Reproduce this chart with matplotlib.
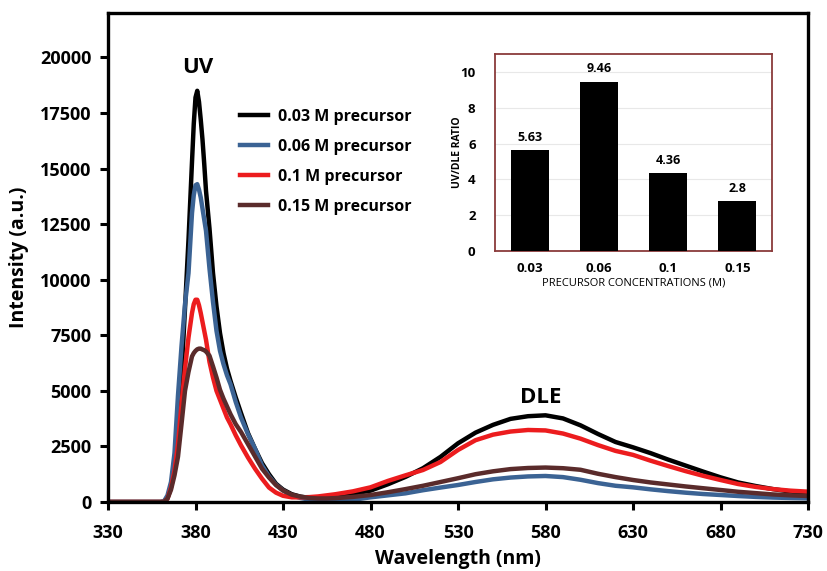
import matplotlib
matplotlib.use("Agg")
import matplotlib.pyplot as plt
import numpy as np

plt.rcParams['font.family'] = ['Open Sans', 'DejaVu Sans']

# wavelength grid (nm) shared by all four spectra
wavelength = [330, 350, 360, 362, 364, 366, 368, 370, 372, 374, 376, 378, 379, 380, 381,
              382, 383, 384, 385, 386, 388, 390, 392, 394, 396, 398, 400, 403, 406, 410,
              414, 418, 422, 426, 430, 435, 440, 445, 450, 455, 460, 470, 480, 490, 500,
              510, 520, 530, 540, 550, 560, 570, 580, 590, 600, 610, 620, 630, 640, 650,
              660, 670, 680, 690, 700, 710, 720, 730]

pl_003 = [0, 0, 0, 20, 200, 700, 1700, 3300, 5700, 8700, 11800, 15300, 17000, 18200, 18500,
          18000, 17200, 16300, 15200, 14000, 12300, 10300, 8800, 7600, 6700, 6000, 5450, 4700, 4000, 3100,
          2400, 1750, 1250, 820, 560, 350, 240, 190, 180, 220, 270, 380, 510, 800, 1130,
          1520, 2030, 2640, 3120, 3470, 3740, 3860, 3900, 3760, 3450, 3060, 2700, 2460, 2200, 1910,
          1640, 1370, 1110, 880, 720, 580, 470, 390]

pl_006 = [0, 0, 0, 30, 300, 900, 2200, 4800, 7000, 8900, 10300, 13000, 13800, 14250, 14300,
          14050, 13700, 13200, 12700, 12200, 10500, 9000, 7700, 6800, 6200, 5700, 5300, 4500, 3800, 3050,
          2400, 1650, 1150, 780, 520, 300, 180, 110, 80, 70, 70, 100, 210, 300, 390,
          530, 650, 765, 900, 1020, 1100, 1150, 1170, 1120, 1000, 850, 730, 660, 570, 490,
          420, 360, 315, 270, 230, 200, 180, 165]

pl_01 = [0, 0, 0, 0, 150, 650, 1400, 2600, 4400, 6000, 7400, 8500, 8900, 9100, 9100,
         8850, 8500, 8100, 7700, 7300, 6300, 5600, 5000, 4600, 4200, 3800, 3500, 3000, 2550, 2000,
         1500, 1050, 650, 420, 280, 210, 210, 220, 250, 300, 350, 480, 660, 950, 1200,
         1440, 1800, 2340, 2780, 3030, 3170, 3240, 3220, 3080, 2850, 2560, 2300, 2120, 1860, 1620,
         1390, 1180, 990, 810, 680, 580, 510, 465]

pl_015 = [0, 0, 0, 0, 150, 550, 1200, 2040, 3500, 5000, 5850, 6550, 6700, 6800, 6870,
          6900, 6900, 6860, 6830, 6770, 6580, 6100, 5600, 5050, 4650, 4300, 3950, 3500, 3150, 2600,
          2050, 1500, 1100, 760, 520, 330, 240, 180, 160, 160, 175, 230, 315, 440, 580,
          730, 900, 1070, 1250, 1380, 1480, 1530, 1550, 1520, 1450, 1270, 1120, 990, 880, 790,
          700, 620, 540, 460, 400, 340, 300, 270]

series_labels = ['0.03 M precursor', '0.06 M precursor', '0.1 M precursor', '0.15 M precursor']
series_colors = ['#000000', '#3b6394', '#ec1c1e', '#5a2b2b']

# inset: UV/DLE ratio
conc_labels = ['0.03', '0.06', '0.1', '0.15']
ratio = [5.63, 9.46, 4.36, 2.8]

fig = plt.figure(figsize=(8.27, 5.71), dpi=100)
ax = fig.add_axes([108 / 827, 69 / 571, 700 / 827, 489 / 571])

for ys, lab, col in zip([pl_003, pl_006, pl_01, pl_015], series_labels, series_colors):
    ax.plot(wavelength, ys, color=col, lw=3.2, label=lab, solid_joinstyle='round')

ax.set_xlim(330, 730)
ax.set_ylim(0, 22000)
ax.set_xticks(np.arange(330, 731, 50))
ax.set_yticks(np.arange(0, 20001, 2500))
for s in ax.spines.values():
    s.set_linewidth(2.4)
ax.tick_params(direction='out', length=6, width=2.2, labelsize=13, pad=6)
ax.tick_params(axis='x', pad=10)
for t in ax.get_xticklabels() + ax.get_yticklabels():
    t.set_fontweight('bold')
ax.set_xlabel('Wavelength (nm)', fontsize=14, fontweight='bold', labelpad=5)
ax.set_ylabel('Intensity (a.u.)', fontsize=14, fontweight='bold', labelpad=8)

ax.text(381, 19550, 'UV', ha='center', va='center', fontsize=16, fontweight='bold')
ax.text(577, 4700, 'DLE', ha='center', va='center', fontsize=16, fontweight='bold')

leg = ax.legend(loc='upper left', bbox_to_anchor=(0.168, 0.834), frameon=False,
                handlelength=1.75, handletextpad=0.6, labelspacing=0.88,
                prop={'size': 11.5, 'weight': 'bold'})
for h in leg.get_lines():
    h.set_linewidth(3.2)

# inset bar chart
ins = fig.add_axes([495 / 827, 320 / 571, 277 / 827, 197 / 571])
xpos = np.arange(len(conc_labels))
ins.bar(xpos, ratio, width=0.55, color='black', zorder=3)
for xp, v in zip(xpos, ratio):
    ins.text(xp, v + 0.35, f'{v:g}', ha='center', va='bottom', fontsize=9, fontweight='bold')
ins.set_xlim(-0.5, 3.5)
ins.set_ylim(0, 11)
ins.set_yticks(np.arange(0, 11, 2))
ins.set_xticks(xpos)
ins.set_xticklabels(conc_labels)
ins.yaxis.grid(True, color='#e8e8e8', lw=0.8, zorder=0)
ins.set_axisbelow(True)
for s in ins.spines.values():
    s.set_color('#8a3b3b')
    s.set_linewidth(1.3)
ins.tick_params(axis='x', length=0, labelsize=9.5, pad=8)
ins.tick_params(axis='y', length=0, labelsize=9.5, pad=14)
for t in ins.get_xticklabels() + ins.get_yticklabels():
    t.set_fontweight('bold')
ins.set_xlabel('PRECURSOR CONCENTRATIONS (M)', fontsize=8, labelpad=2)
ins.set_ylabel('UV/DLE RATIO', fontsize=7.5, fontweight='bold', labelpad=-2)

fig.savefig('out.png', dpi=100)
